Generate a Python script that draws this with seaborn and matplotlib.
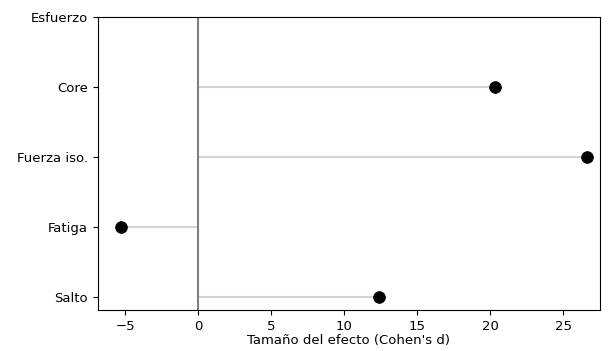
import matplotlib
matplotlib.use("Agg")
import matplotlib.pyplot as plt
import seaborn as sns
import pandas as pd
import numpy as np

variables = ["Salto", "Fatiga", "Fuerza iso.", "Core", "Esfuerzo"]
# Esfuerzo: point not visible in the reference (cropped)
efecto = [12.4, -5.3, 26.6, 20.3, np.nan]

df = pd.DataFrame({"variable": variables, "d": efecto, "pos": range(len(variables))})
plt.rcParams["font.size"] = 9.5

fig = plt.figure(figsize=(6.12, 3.51), dpi=100)
ax = fig.add_axes([0.160, 0.117, 0.820, 0.835])

ok = df.dropna()
ax.hlines(ok["pos"], 0, ok["d"], color="lightgray", linewidth=1.5, zorder=1)
sns.scatterplot(data=ok, x="d", y="pos", color="black", s=70, edgecolor="black", ax=ax, zorder=3)
ax.axvline(0, color="gray", linewidth=1.5, zorder=2)

ax.set_yticks(df["pos"])
ax.set_yticklabels(variables)
ax.set_xticks([-5, 0, 5, 10, 15, 20, 25])
ax.set_xlim(-6.85, 27.5)
ax.set_ylim(-0.19, 4)
ax.set_xlabel("Tamaño del efecto (Cohen's d)", labelpad=1)
ax.set_ylabel("")

fig.savefig("out.png", dpi=100)
